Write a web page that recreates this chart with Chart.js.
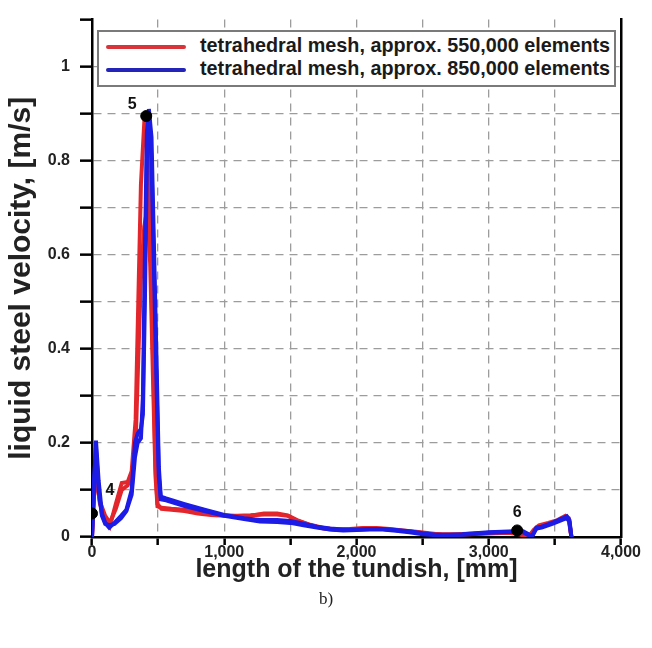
<!DOCTYPE html>
<html>
<head>
<meta charset="utf-8">
<script src="https://cdn.jsdelivr.net/npm/chart.js@4.4.1/dist/chart.umd.min.js"></script>
<style>
  body { margin: 0; background: #fff; }
  #wrap { position: relative; width: 652px; height: 648px; }
  #legend {
    position: absolute; left: 97px; top: 30px; width: 519px; height: 57px;
    box-sizing: border-box; border: 2px solid #7a7a7a; background: #fff;
    font: bold 19.8px "Liberation Sans", Arial, sans-serif; color: #1a1a1a;
  }
  .row { position: absolute; left: 7px; height: 22px; line-height: 22px; white-space: nowrap; }
  .row span.ln { display: inline-block; width: 80px; height: 4px; vertical-align: middle; margin-right: 14px; border-radius: 2px; }
  #cap { position: absolute; left: 0; width: 652px; top: 589px; text-align: center;
    font: 17px "Liberation Serif", "Times New Roman", serif; color: #222; }
</style>
</head>
<body>
<div id="wrap">
  <canvas id="velChart"></canvas>
  <div id="legend">
    <div class="row" style="top:2px"><span class="ln" style="background:#d8343a"></span>tetrahedral mesh, approx. 550,000 elements</div>
    <div class="row" style="top:25px"><span class="ln" style="background:#2424b8"></span>tetrahedral mesh, approx. 850,000 elements</div>
  </div>
  <div id="cap">b)</div>
</div>
<script>
// mesh 550,000 elements (red bundle)
var distRed = [0, 25, 60, 100, 135, 180, 225, 270, 300, 330, 350, 370, 395, 420, 440, 460, 480, 495, 525, 600, 700, 800, 900, 1000, 1100, 1200, 1300, 1400, 1480, 1550, 1650, 1750, 1850, 1950, 2050, 2150, 2250, 2350, 2450, 2550, 2650, 2750, 2850, 2950, 3050, 3150, 3230, 3270, 3300, 3340, 3380, 3450, 3520, 3580, 3605, 3625];
var velRed1 = [0, 0.15, 0.07, 0.04, 0.023, 0.07, 0.115, 0.117, 0.14, 0.25, 0.5, 0.75, 0.88, 0.86, 0.65, 0.4, 0.15, 0.07, 0.06, 0.058, 0.055, 0.05, 0.047, 0.045, 0.045, 0.046, 0.048, 0.048, 0.045, 0.035, 0.025, 0.018, 0.015, 0.016, 0.018, 0.018, 0.016, 0.013, 0.01, 0.007, 0.006, 0.006, 0.007, 0.008, 0.009, 0.01, 0.008, 0.004, 0, 0.015, 0.025, 0.03, 0.036, 0.045, 0.04, 0];
var velRed2 = [0, 0.14, 0.075, 0.045, 0.03, 0.06, 0.1, 0.11, 0.13, 0.2, 0.38, 0.55, 0.66, 0.7, 0.58, 0.35, 0.13, 0.065, 0.062, 0.06, 0.058, 0.053, 0.049, 0.046, 0.044, 0.045, 0.05, 0.05, 0.046, 0.036, 0.026, 0.019, 0.016, 0.017, 0.019, 0.019, 0.017, 0.014, 0.011, 0.008, 0.005, 0.005, 0.006, 0.007, 0.008, 0.009, 0.006, 0.002, 0, 0.013, 0.022, 0.028, 0.034, 0.042, 0.037, 0];

// mesh 850,000 elements (blue bundle)
var distBlue = [0, 15, 30, 50, 75, 100, 130, 170, 220, 260, 300, 325, 345, 370, 385, 400, 415, 430, 450, 470, 490, 505, 520, 560, 700, 850, 1000, 1150, 1270, 1400, 1500, 1600, 1700, 1800, 1900, 2000, 2100, 2200, 2300, 2400, 2500, 2600, 2700, 2800, 2900, 3000, 3100, 3200, 3260, 3300, 3325, 3360, 3400, 3480, 3560, 3590, 3610, 3625];
var velBlue1 = [0, 0.1, 0.205, 0.12, 0.05, 0.03, 0.02, 0.03, 0.045, 0.058, 0.1, 0.2, 0.22, 0.23, 0.26, 0.5, 0.8, 0.91, 0.85, 0.6, 0.35, 0.15, 0.086, 0.082, 0.07, 0.058, 0.047, 0.04, 0.036, 0.036, 0.034, 0.028, 0.022, 0.018, 0.016, 0.016, 0.017, 0.017, 0.015, 0.012, 0.008, 0.005, 0.005, 0.006, 0.008, 0.01, 0.011, 0.012, 0.012, 0.006, 0, 0.02, 0.022, 0.03, 0.04, 0.044, 0.036, 0];
var velBlue2 = [0, 0.12, 0.19, 0.1, 0.045, 0.028, 0.025, 0.028, 0.04, 0.055, 0.09, 0.17, 0.2, 0.21, 0.3, 0.6, 0.86, 0.9, 0.8, 0.55, 0.3, 0.13, 0.08, 0.078, 0.066, 0.055, 0.045, 0.038, 0.033, 0.032, 0.03, 0.025, 0.02, 0.016, 0.014, 0.015, 0.016, 0.016, 0.013, 0.01, 0.006, 0.004, 0.004, 0.005, 0.007, 0.009, 0.01, 0.011, 0.01, 0.004, 0, 0.018, 0.02, 0.028, 0.037, 0.04, 0.033, 0];

// marked points 4, 5, 6
var markNames = ['4', '5', '6'];
var markDist = [0, 410, 3215];
var markVel = [0.05, 0.895, 0.014];

function pts(xs, ys) {
  var out = [];
  for (var i in xs) out.push({ x: xs[i], y: ys[i] });
  return out;
}

var red = '#e3262c';
var blue = '#1c1ce6';
var font = '"Liberation Sans", Arial, sans-serif';

function lineSet(data, color) {
  return { data: data, borderColor: color, borderWidth: 4, pointRadius: 0, tension: 0, fill: false };
}

var labelOffset = [[18, -23], [-14, -11], [0, -18]];
const markLabels = {
  id: 'markLabels',
  afterDatasetsDraw(chart) {
    const ctx = chart.ctx;
    const meta = chart.getDatasetMeta(0);
    ctx.save();
    ctx.font = 'bold 16px ' + font;
    ctx.fillStyle = '#111';
    ctx.textAlign = 'center';
    ctx.textBaseline = 'middle';
    meta.data.forEach(function (p, i) {
      ctx.fillText(markNames[i], p.x + labelOffset[i][0], p.y + labelOffset[i][1]);
    });
    ctx.restore();
  }
};

const ctx = document.getElementById('velChart').getContext('2d');
const myChart = new Chart(ctx, {
  type: 'line',
  data: {
    datasets: [
      { data: pts(markDist, markVel), showLine: false, pointRadius: 5.5, pointBackgroundColor: '#000', pointBorderColor: '#000' },
      lineSet(pts(distBlue, velBlue1), blue),
      lineSet(pts(distBlue, velBlue2), blue),
      lineSet(pts(distRed, velRed1), red),
      lineSet(pts(distRed, velRed2), red)
    ]
  },
  options: {
    responsive: true,
    maintainAspectRatio: false,
    animation: false,
    layout: { padding: { top: 10, right: 31, bottom: 61, left: 0 } },
    plugins: { legend: { display: false }, tooltip: { enabled: false } },
    scales: {
      x: {
        type: 'linear',
        min: 0, max: 4000,
        afterFit: function (s) { s.height = 50; },
        ticks: {
          stepSize: 500, maxRotation: 0, autoSkip: false, padding: -2,
          color: '#222', font: { family: font, size: 16, weight: 'bold' },
          callback: function (v) { return v % 1000 === 0 ? v.toLocaleString('en-US') : ''; }
        },
        grid: {
          color: function (c) { return (c.tick && (c.tick.value === 0 || c.tick.value === 4000)) ? 'rgba(0,0,0,0)' : '#9c9c9c'; },
          lineWidth: 1.3, tickColor: '#000', tickLength: 8, tickWidth: 2.5, tickBorderDash: []
        },
        border: { display: true, color: '#000', width: 2.5, dash: [8, 6] },
        title: { display: true, text: 'length of the tundish, [mm]', color: '#222', padding: { top: 0, bottom: 2 },
          font: { family: font, size: 25, weight: 'bold' } }
      },
      y: {
        min: 0, max: 1.1,
        afterFit: function (s) { s.width = 92; },
        ticks: {
          stepSize: 0.1, padding: 10, autoSkip: false,
          color: '#222', font: { family: font, size: 16, weight: 'bold' },
          callback: function (v) {
            var k = Math.round(v * 10);
            return (k % 2 === 0 && k <= 10) ? String(k / 10) : '';
          }
        },
        grid: {
          color: function (c) { return (c.tick && (c.tick.value < 0.05 || c.tick.value > 1.05)) ? 'rgba(0,0,0,0)' : '#9c9c9c'; },
          lineWidth: 1.3, tickColor: '#000', tickLength: 12, tickWidth: 2.5, tickBorderDash: []
        },
        border: { display: true, color: '#000', width: 2.5, dash: [8, 6] },
        title: { display: true, text: 'liquid steel velocity, [m/s]', color: '#222', padding: { top: 4, bottom: 0 },
          font: { family: font, size: 30, weight: 'bold' } }
      },
      y2: {
        position: 'right',
        min: 0, max: 1.1,
        afterFit: function (s) { s.width = 0; },
        ticks: { display: false },
        grid: { drawOnChartArea: false, drawTicks: false },
        border: { display: true, color: '#000', width: 2.5 }
      }
    }
  },
  plugins: [markLabels]
});
</script>
</body>
</html>
